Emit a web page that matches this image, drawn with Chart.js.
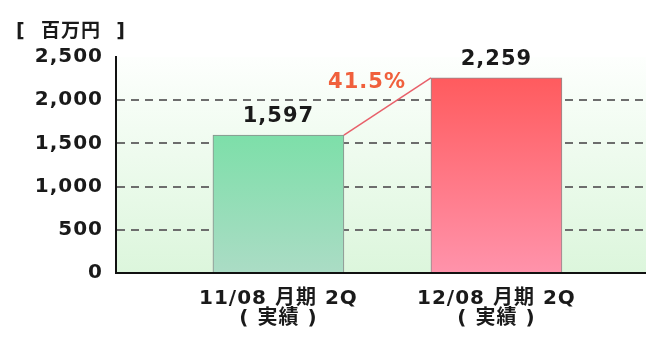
<!DOCTYPE html>
<html>
<head>
<meta charset="utf-8">
<script src="https://cdn.jsdelivr.net/npm/chart.js@4.4.1/dist/chart.umd.min.js"></script>
<style>
  html, body { margin: 0; padding: 0; background: #fff; }
  #wrap { width: 646px; height: 339px; position: relative; }
</style>
</head>
<body>
<div id="wrap"><canvas id="chart"></canvas></div>
<script>
// sales per half-year period, millions of yen
const periods = [["11/08 月期 2Q", "( 実績 )"], ["12/08 月期 2Q", "( 実績 )"]];
const sales = [1597, 2259];
const yTicks = [0, 500, 1000, 1500, 2000, 2500];
const unitLabel = "[  百万円  ]";

const FONT = "'DejaVu Sans', 'Noto Sans CJK JP', sans-serif";
const SPACING = "1px";
const barTops = ["#7ddfa9", "#ff5b5e"];
const barBottoms = ["#abdcc5", "#ff93ab"];

const fmt = (v) => v.toLocaleString("en-US");

// chart area wash: white at the top fading to pale green
const areaBackground = {
  id: "areaBackground",
  beforeDraw(chart) {
    const { ctx, chartArea: a } = chart;
    // wide lettering for every label drawn afterwards
    ctx.letterSpacing = SPACING;
    ctx.save();
    const g = ctx.createLinearGradient(0, a.top, 0, a.bottom);
    g.addColorStop(0, "#fdfffd");
    g.addColorStop(1, "#dcf6dc");
    ctx.fillStyle = g;
    ctx.fillRect(a.left, a.top, a.right - a.left, a.bottom - a.top);
    ctx.restore();
  },
};

// value labels, growth connector and unit caption
const annotations = {
  id: "annotations",
  afterDatasetsDraw(chart) {
    const { ctx } = chart;
    const bars = chart.getDatasetMeta(0).data;
    const y = chart.scales.y;
    ctx.save();

    // connector from first bar's top-right corner to second bar's top-left
    const b0 = bars[0], b1 = bars[1];
    const x0 = b0.x + b0.width / 2, y0 = y.getPixelForValue(sales[0]);
    const x1 = b1.x - b1.width / 2, y1 = y.getPixelForValue(sales[1]);
    ctx.strokeStyle = "#e8606a";
    ctx.lineWidth = 1.5;
    ctx.beginPath();
    ctx.moveTo(x0, y0);
    ctx.lineTo(x1, y1);
    ctx.stroke();

    ctx.textAlign = "center";
    ctx.textBaseline = "alphabetic";
    ctx.font = "bold 21px " + FONT;
    ctx.fillStyle = "#1a1a1a";
    bars.forEach((b, i) => {
      ctx.fillText(fmt(sales[i]), b.x, y.getPixelForValue(sales[i]) - 13);
    });

    const growth = ((sales[1] / sales[0] - 1) * 100).toFixed(1) + "%";
    ctx.fillStyle = "#f0603c";
    ctx.fillText(growth, 367, 88);

    ctx.textAlign = "left";
    ctx.font = "bold 19px " + FONT;
    ctx.fillStyle = "#1a1a1a";
    ctx.fillText(unitLabel, 16, 37);
    ctx.restore();
  },
};

const gradientFor = (i) => (ctx) => {
  const chart = ctx.chart;
  if (!chart.chartArea) return barTops[i];
  const y = chart.scales.y;
  const g = chart.ctx.createLinearGradient(0, y.getPixelForValue(sales[i]), 0, y.getPixelForValue(0));
  g.addColorStop(0, barTops[i]);
  g.addColorStop(1, barBottoms[i]);
  return g;
};

new Chart(document.getElementById("chart"), {
  type: "bar",
  data: {
    datasets: [{
      data: sales.map((v, i) => ({ x: i, y: v })),
      backgroundColor: (ctx) => gradientFor(ctx.dataIndex)(ctx),
      borderColor: "#8c8c8c",
      borderWidth: 1,
      borderSkipped: "bottom",
      barThickness: 131,
    }],
  },
  options: {
    responsive: true,
    maintainAspectRatio: false,
    animation: false,
    layout: { padding: { top: 57, left: 0, right: 0, bottom: 0 } },
    plugins: { legend: { display: false }, tooltip: { enabled: false } },
    scales: {
      x: {
        type: "linear",
        offset: false,
        min: -0.745,
        max: 1.686,
        afterBuildTicks: (scale) => { scale.ticks = periods.map((_, i) => ({ value: i })); },
        afterFit: (scale) => { scale.height = 66; },
        ticks: {
          callback: (v) => periods[v],
          color: "#1a1a1a",
          font: { family: FONT, size: 20, weight: "bold", lineHeight: "20px" },
          padding: 16,
          maxRotation: 0,
          autoSkip: false,
        },
        grid: { offset: false, drawOnChartArea: false, drawTicks: false },
        border: { display: true, color: "#111", width: 2 },
      },
      y: {
        min: 0,
        max: 2500,
        afterBuildTicks: (scale) => { scale.ticks = yTicks.map((v) => ({ value: v })); },
        afterFit: (scale) => { scale.width = 116; },
        ticks: {
          callback: (v) => fmt(v),
          color: "#1a1a1a",
          font: { family: FONT, size: 20, weight: "bold" },
          padding: 13,
        },
        grid: {
          drawTicks: false,
          lineWidth: 2,
          color: (ctx) => (ctx.tick && (ctx.tick.value === 0 || ctx.tick.value === 2500)) ? "rgba(0,0,0,0)" : "#6d6d6d",
        },
        border: { display: true, color: "#111", width: 2, dash: [8, 6] },
      },
    },
  },
  plugins: [areaBackground, annotations],
});
</script>
</body>
</html>
